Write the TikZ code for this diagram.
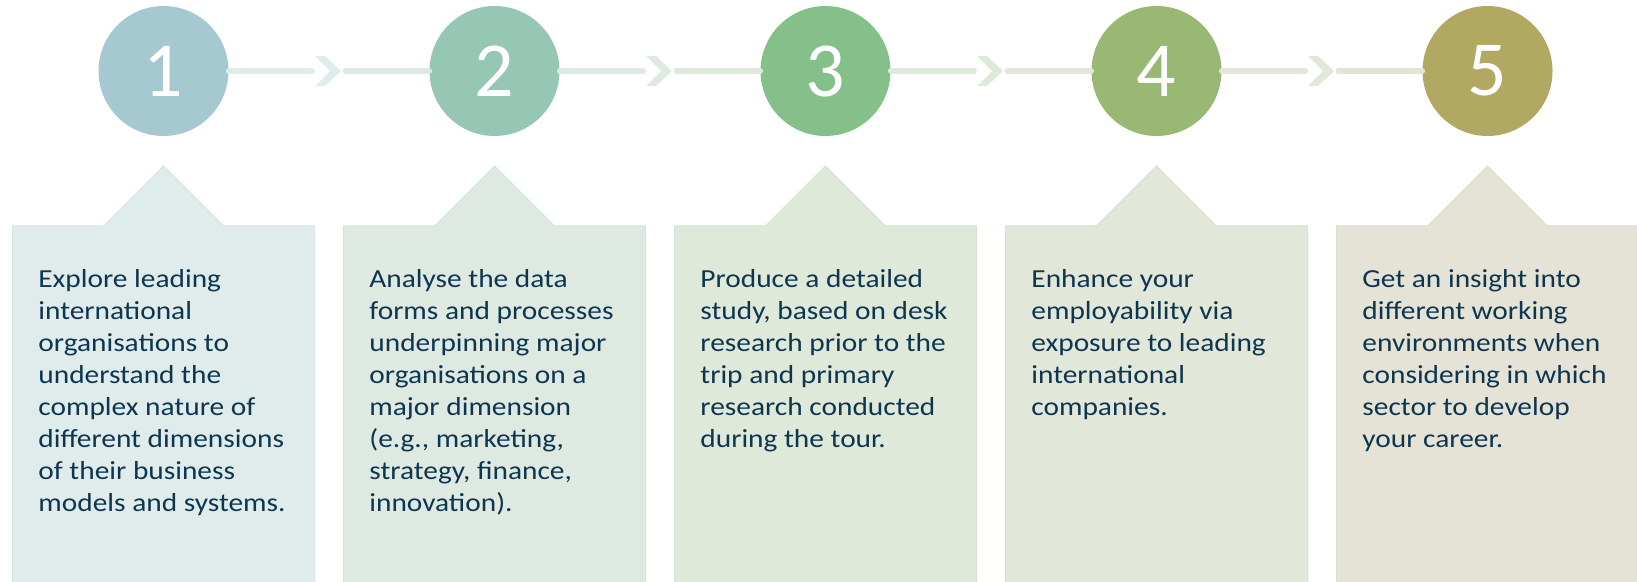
\documentclass[tikz,border=0pt]{standalone}
\usepackage{fontspec}
\setmainfont{Carlito}
\newfontfamily\stepfont{Carlito}[FakeStretch=1.13]
\usetikzlibrary{positioning,calc}

\definecolor{stepa}{HTML}{A6C8D0}
\definecolor{stepb}{HTML}{95C7B4}
\definecolor{stepc}{HTML}{85C08A}
\definecolor{stepd}{HTML}{98B874}
\definecolor{stepe}{HTML}{B1A862}
\definecolor{boxa}{HTML}{E0ECEC}
\definecolor{boxb}{HTML}{DEEAE1}
\definecolor{boxc}{HTML}{DFE9DA}
\definecolor{boxd}{HTML}{E1E7D9}
\definecolor{boxe}{HTML}{E5E3D5}
\definecolor{txt}{HTML}{0E3650}

\begin{document}
\begin{tikzpicture}[x=0.5pt,y=-0.5pt,
  num/.style={shape=circle,minimum size=65pt,inner sep=0pt,text=white,
    font=\fontsize{39}{39}\selectfont},
  desc/.style={anchor=north west,inner sep=0pt,align=left,text=txt,
    font=\stepfont\fontsize{13}{16}\selectfont},
  link/.style={line width=3pt,line cap=round}]
\useasboundingbox (0,0) rectangle (1637,582);

% boxes with pointer
\foreach \b/\cx in {boxa/163.5,boxb/494.5,boxc/825.5,boxd/1156.5,boxe/1487.5}
  \filldraw[fill=\b,draw=\b!97!black,line width=0.5pt]
    (\cx-151,590) -- (\cx-151,226) -- (\cx-60,226) -- (\cx,166)
    -- (\cx+60,226) -- (\cx+151,226) -- (\cx+151,590) -- cycle;

% steps
\path (163.5,71) node (c1) [num,fill=stepa] {1};
\path (494.5,71) node (c2) [num,fill=stepb] {2};
\path (825.5,71) node (c3) [num,fill=stepc] {3};
\path (1156.5,71) node (c4) [num,fill=stepd] {4};
\path (1487.5,71) node (c5) [num,fill=stepe] {5};

\coordinate (v12) at ($(c1)!0.5!(c2)$);
\coordinate (v23) at ($(c2)!0.5!(c3)$);
\coordinate (v34) at ($(c3)!0.5!(c4)$);
\coordinate (v45) at ($(c4)!0.5!(c5)$);

% connectors
\draw [link,boxa] (c1) -- ([xshift=-8.5pt]v12);
\draw [link,boxb] ([xshift=8.25pt]v12) -- (c2);
\draw [link,boxb] (c2) -- ([xshift=-8.5pt]v23);
\draw [link,boxc] ([xshift=8.25pt]v23) -- (c3);
\draw [link,boxc] (c3) -- ([xshift=-8.5pt]v34);
\draw [link,boxd] ([xshift=8.25pt]v34) -- (c4);
\draw [link,boxd] (c4) -- ([xshift=-8.5pt]v45);
\draw [link,boxe] ([xshift=8.25pt]v45) -- (c5);

\fill [boxa] ([shift={(-14,-15)}]v12) -- ++(10,0) -- ++(16,15) -- ++(-16,15) -- ++(-10,0) -- ++(15,-15) -- cycle;
\fill [boxb] ([shift={(-14,-15)}]v23) -- ++(10,0) -- ++(16,15) -- ++(-16,15) -- ++(-10,0) -- ++(15,-15) -- cycle;
\fill [boxc] ([shift={(-14,-15)}]v34) -- ++(10,0) -- ++(16,15) -- ++(-16,15) -- ++(-10,0) -- ++(15,-15) -- cycle;
\fill [boxd] ([shift={(-14,-15)}]v45) -- ++(10,0) -- ++(16,15) -- ++(-16,15) -- ++(-10,0) -- ++(15,-15) -- cycle;

% texts
\path (38,269) node (t1) [desc] {Explore leading\\international\\organisations to\\understand the\\complex nature of\\different dimensions\\of their business\\models and systems.};
\path (369,269) node (t2) [desc] {Analyse the data\\forms and processes\\underpinning major\\organisations on a\\major dimension\\(e.g., marketing,\\strategy, finance,\\innovation).};
\path (700,269) node (t3) [desc] {Produce a detailed\\study, based on desk\\research prior to the\\trip and primary\\research conducted\\during the tour.};
\path (1031,269) node (t4) [desc] {Enhance your\\employability via\\exposure to leading\\international\\companies.};
\path (1362,269) node (t5) [desc] {Get an insight into\\different working\\environments when\\considering in which\\sector to develop\\your career.};
\end{tikzpicture}
\end{document}
